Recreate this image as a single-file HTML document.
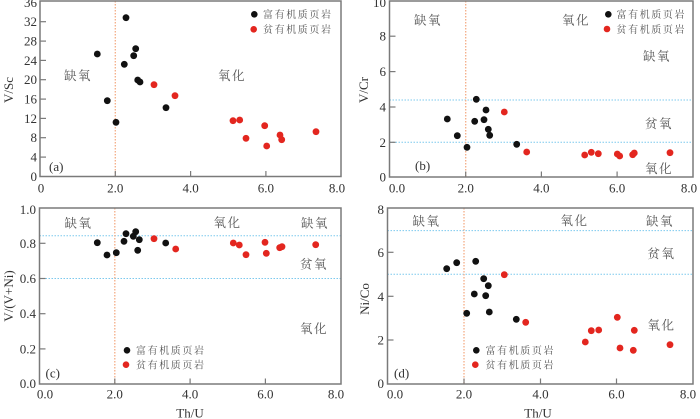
<!DOCTYPE html>
<html><head><meta charset="utf-8"><style>
html,body{margin:0;padding:0;background:#fff;}
svg{display:block;}
.t{font-family:"Liberation Serif",serif;font-size:13px;fill:#333;}
.lab{font-family:"Liberation Serif",serif;font-size:13px;fill:#333;}
.pl{font-family:"Liberation Serif",serif;font-size:13px;fill:#333;}
.cn{font-family:"Liberation Serif","Noto Serif CJK SC","Noto Sans CJK SC",serif;font-size:12.5px;fill:#555;letter-spacing:1.5px;}
.lg{font-family:"Liberation Serif","Noto Serif CJK SC","Noto Sans CJK SC",serif;font-size:10px;fill:#555;letter-spacing:1.6px;}
.fr{fill:none;stroke:#7a7a7a;stroke-width:1.5;}
.tk{stroke:#7a7a7a;stroke-width:1.2;}
.vo{stroke:#f4ad86;stroke-width:1.3;stroke-dasharray:1.5 1.5;}
.hb{stroke:#7cc9ee;stroke-width:1;stroke-dasharray:1.5 1.5;}
.k{fill:#111;}
.r{fill:#e3261f;}
</style></head><body>
<svg width="700" height="419" viewBox="0 0 700 419" xmlns="http://www.w3.org/2000/svg">

<!-- ===== Panel (a) ===== -->
<line class="vo" x1="115.3" y1="1" x2="115.3" y2="176.5"/>
<rect class="fr" x="40" y="1" width="301" height="175.5"/>
<g class="tk">
<line x1="40" y1="157.1" x2="46" y2="157.1"/><line x1="40" y1="137.7" x2="46" y2="137.7"/>
<line x1="40" y1="118.4" x2="46" y2="118.4"/><line x1="40" y1="99.1" x2="46" y2="99.1"/>
<line x1="40" y1="79.7" x2="46" y2="79.7"/><line x1="40" y1="60.4" x2="46" y2="60.4"/>
<line x1="40" y1="41.1" x2="46" y2="41.1"/><line x1="40" y1="21.7" x2="46" y2="21.7"/>
<line x1="115.3" y1="176.5" x2="115.3" y2="171"/><line x1="190.6" y1="176.5" x2="190.6" y2="171"/>
<line x1="265.9" y1="176.5" x2="265.9" y2="171"/>
</g>
<g class="t" text-anchor="end">
<text x="37" y="181">0</text><text x="37" y="161.6">4</text><text x="37" y="142.2">8</text>
<text x="37" y="122.9">12</text><text x="37" y="103.6">16</text><text x="37" y="84.2">20</text>
<text x="37" y="64.9">24</text><text x="37" y="45.6">28</text><text x="37" y="26.2">32</text>
<text x="37" y="7">36</text>
</g>
<g class="t" text-anchor="middle">
<text x="41" y="192.5">0</text><text x="115.3" y="192.5">2.0</text><text x="190.6" y="192.5">4.0</text>
<text x="265.9" y="192.5">6.0</text><text x="337" y="192.5">8.0</text>
</g>
<text class="lab" text-anchor="middle" transform="translate(13,90) rotate(-90)">V/Sc</text>
<text class="pl" x="49" y="171">(a)</text>
<text class="cn" x="64" y="80">缺氧</text>
<text class="cn" x="218" y="80">氧化</text>
<g>
<circle class="k" cx="97.3" cy="54" r="3.4"/><circle class="k" cx="107.3" cy="100.7" r="3.4"/>
<circle class="k" cx="116" cy="122.3" r="3.4"/><circle class="k" cx="124.3" cy="64.3" r="3.4"/>
<circle class="k" cx="126" cy="17.7" r="3.4"/><circle class="k" cx="133.7" cy="55.7" r="3.4"/>
<circle class="k" cx="135.7" cy="48.7" r="3.4"/><circle class="k" cx="137.7" cy="80" r="3.4"/>
<circle class="k" cx="140" cy="82" r="3.4"/><circle class="k" cx="166" cy="107.7" r="3.4"/>
<circle class="r" cx="154" cy="84.7" r="3.4"/><circle class="r" cx="175" cy="95.7" r="3.4"/>
<circle class="r" cx="233" cy="120.7" r="3.4"/><circle class="r" cx="239.7" cy="120" r="3.4"/>
<circle class="r" cx="246" cy="138.3" r="3.4"/><circle class="r" cx="264.7" cy="125.7" r="3.4"/>
<circle class="r" cx="266.7" cy="146" r="3.4"/><circle class="r" cx="280" cy="135" r="3.4"/>
<circle class="r" cx="281.7" cy="139.7" r="3.4"/><circle class="r" cx="316" cy="131.7" r="3.4"/>
</g>
<circle class="k" cx="254.3" cy="14.3" r="3.3"/><text class="lg" x="263" y="18">富有机质页岩</text>
<circle class="r" cx="253.7" cy="29.3" r="3.3"/><text class="lg" x="263" y="33">贫有机质页岩</text>

<!-- ===== Panel (b) ===== -->
<line class="hb" x1="389.5" y1="100" x2="693" y2="100"/>
<line class="hb" x1="389.5" y1="142.3" x2="693" y2="142.3"/>
<line class="vo" x1="465.7" y1="1" x2="465.7" y2="177"/>
<rect class="fr" x="389.5" y="1" width="303.5" height="176"/>
<g class="tk">
<line x1="389.5" y1="142.3" x2="395.5" y2="142.3"/><line x1="389.5" y1="107" x2="395.5" y2="107"/>
<line x1="389.5" y1="71.6" x2="395.5" y2="71.6"/><line x1="389.5" y1="36.2" x2="395.5" y2="36.2"/>
<line x1="465.7" y1="177" x2="465.7" y2="171.5"/><line x1="541.4" y1="177" x2="541.4" y2="171.5"/>
<line x1="617.1" y1="177" x2="617.1" y2="171.5"/>
</g>
<g class="t" text-anchor="end">
<text x="386" y="181.5">0</text><text x="386" y="146.8">2</text><text x="386" y="111.5">4</text>
<text x="386" y="76.1">6</text><text x="386" y="40.7">8</text><text x="386" y="7">10</text>
</g>
<g class="t" text-anchor="middle">
<text x="397" y="192.5">0.0</text><text x="465.7" y="192.5">2.0</text><text x="541.4" y="192.5">4.0</text>
<text x="617.1" y="192.5">6.0</text><text x="689" y="192.5">8.0</text>
</g>
<text class="lab" text-anchor="middle" transform="translate(368,90) rotate(-90)">V/Cr</text>
<text class="pl" x="415" y="170">(b)</text>
<text class="cn" x="414" y="24.5">缺氧</text>
<text class="cn" x="562" y="24.5">氧化</text>
<text class="cn" x="643" y="60.5">缺氧</text>
<text class="cn" x="645" y="128">贫氧</text>
<text class="cn" x="645" y="173">氧化</text>
<g>
<circle class="k" cx="447.3" cy="119" r="3.4"/><circle class="k" cx="457.3" cy="135.7" r="3.4"/>
<circle class="k" cx="467" cy="147.3" r="3.4"/><circle class="k" cx="474.7" cy="121.3" r="3.4"/>
<circle class="k" cx="476.3" cy="99.3" r="3.4"/><circle class="k" cx="484" cy="119.7" r="3.4"/>
<circle class="k" cx="486" cy="110" r="3.4"/><circle class="k" cx="488.3" cy="129.3" r="3.4"/>
<circle class="k" cx="489.7" cy="135.3" r="3.4"/><circle class="k" cx="516.7" cy="144.3" r="3.4"/>
<circle class="r" cx="504.3" cy="112" r="3.4"/><circle class="r" cx="526.7" cy="152" r="3.4"/>
<circle class="r" cx="584.7" cy="155" r="3.4"/><circle class="r" cx="591.3" cy="152.3" r="3.4"/>
<circle class="r" cx="598.3" cy="153.7" r="3.4"/><circle class="r" cx="617.3" cy="154" r="3.4"/>
<circle class="r" cx="619.7" cy="156" r="3.4"/><circle class="r" cx="632.7" cy="154.7" r="3.4"/>
<circle class="r" cx="634.3" cy="153" r="3.4"/><circle class="r" cx="670" cy="152.7" r="3.4"/>
</g>
<circle class="k" cx="608.3" cy="14.3" r="3.3"/><text class="lg" x="616.5" y="18">富有机质页岩</text>
<circle class="r" cx="607" cy="29" r="3.3"/><text class="lg" x="616.5" y="33">贫有机质页岩</text>

<!-- ===== Panel (c) ===== -->
<line class="hb" x1="39.5" y1="235.7" x2="341" y2="235.7"/>
<line class="hb" x1="39.5" y1="278.5" x2="341" y2="278.5"/>
<line class="vo" x1="114.8" y1="208" x2="114.8" y2="384"/>
<rect class="fr" x="39.5" y="208" width="301.5" height="176"/>
<g class="tk">
<line x1="39.5" y1="348.9" x2="45.5" y2="348.9"/><line x1="39.5" y1="313.7" x2="45.5" y2="313.7"/>
<line x1="39.5" y1="278.5" x2="45.5" y2="278.5"/><line x1="39.5" y1="243.3" x2="45.5" y2="243.3"/>
<line x1="114.8" y1="384" x2="114.8" y2="378.5"/><line x1="190.1" y1="384" x2="190.1" y2="378.5"/>
<line x1="265.4" y1="384" x2="265.4" y2="378.5"/>
</g>
<g class="t" text-anchor="end">
<text x="36" y="388">0.0</text><text x="36" y="353.4">0.2</text><text x="36" y="318.2">0.4</text>
<text x="36" y="283">0.6</text><text x="36" y="247.8">0.8</text><text x="36" y="214">1.0</text>
</g>
<g class="t" text-anchor="middle">
<text x="45" y="398.5">0.0</text><text x="114.8" y="398.5">2.0</text><text x="190.1" y="398.5">4.0</text>
<text x="265.4" y="398.5">6.0</text><text x="336" y="398.5">8.0</text>
</g>
<text class="lab" text-anchor="middle" transform="translate(13,296) rotate(-90)">V/(V+Ni)</text>
<text class="lab" text-anchor="middle" x="190" y="417.5">Th/U</text>
<text class="pl" x="45.5" y="377.5">(c)</text>
<text class="cn" x="64.5" y="227.5">缺氧</text>
<text class="cn" x="213.5" y="227">氧化</text>
<text class="cn" x="301" y="227.5">缺氧</text>
<text class="cn" x="300" y="268.5">贫氧</text>
<text class="cn" x="300" y="333">氧化</text>
<g>
<circle class="k" cx="97.3" cy="242.7" r="3.4"/><circle class="k" cx="107" cy="255" r="3.4"/>
<circle class="k" cx="116.3" cy="252.7" r="3.4"/><circle class="k" cx="124" cy="241.3" r="3.4"/>
<circle class="k" cx="126" cy="233.7" r="3.4"/><circle class="k" cx="133.3" cy="236.3" r="3.4"/>
<circle class="k" cx="135.7" cy="231.7" r="3.4"/><circle class="k" cx="139.3" cy="239.7" r="3.4"/>
<circle class="k" cx="137.7" cy="250.3" r="3.4"/><circle class="k" cx="165.7" cy="243" r="3.4"/>
<circle class="r" cx="154" cy="238.7" r="3.4"/><circle class="r" cx="175.7" cy="249" r="3.4"/>
<circle class="r" cx="233.3" cy="243" r="3.4"/><circle class="r" cx="239.3" cy="245" r="3.4"/>
<circle class="r" cx="246" cy="254.7" r="3.4"/><circle class="r" cx="265" cy="242.3" r="3.4"/>
<circle class="r" cx="266.3" cy="253.3" r="3.4"/><circle class="r" cx="279.7" cy="247.7" r="3.4"/>
<circle class="r" cx="282" cy="246.7" r="3.4"/><circle class="r" cx="315.7" cy="244.7" r="3.4"/>
</g>
<circle class="k" cx="127" cy="350.3" r="3.3"/><text class="lg" x="136" y="354">富有机质页岩</text>
<circle class="r" cx="126" cy="364.7" r="3.3"/><text class="lg" x="136" y="368.5">贫有机质页岩</text>

<!-- ===== Panel (d) ===== -->
<line class="hb" x1="387.5" y1="230.6" x2="693" y2="230.6"/>
<line class="hb" x1="387.5" y1="274.3" x2="693" y2="274.3"/>
<line class="vo" x1="464" y1="208" x2="464" y2="384"/>
<rect class="fr" x="387.5" y="208" width="305.5" height="176"/>
<g class="tk">
<line x1="387.5" y1="340" x2="393.5" y2="340"/><line x1="387.5" y1="296.3" x2="393.5" y2="296.3"/>
<line x1="387.5" y1="252.3" x2="393.5" y2="252.3"/>
<line x1="464" y1="384" x2="464" y2="378.5"/><line x1="540.5" y1="384" x2="540.5" y2="378.5"/>
<line x1="616.5" y1="384" x2="616.5" y2="378.5"/>
</g>
<g class="t" text-anchor="end">
<text x="384" y="388">0</text><text x="384" y="344.5">2</text><text x="384" y="300.8">4</text>
<text x="384" y="256.8">6</text><text x="384" y="214">8</text>
</g>
<g class="t" text-anchor="middle">
<text x="395" y="398.5">0.0</text><text x="464" y="398.5">2.0</text><text x="540.5" y="398.5">4.0</text>
<text x="616.5" y="398.5">6.0</text><text x="688" y="398.5">8.0</text>
</g>
<text class="lab" text-anchor="middle" transform="translate(369,299) rotate(-90)">Ni/Co</text>
<text class="lab" text-anchor="middle" x="538" y="417.5">Th/U</text>
<text class="pl" x="394" y="377.5">(d)</text>
<text class="cn" x="412.5" y="225.5">缺氧</text>
<text class="cn" x="560.5" y="225">氧化</text>
<text class="cn" x="646" y="225.5">缺氧</text>
<text class="cn" x="647.5" y="258">贫氧</text>
<text class="cn" x="647.5" y="329.5">氧化</text>
<g>
<circle class="k" cx="446.7" cy="268.7" r="3.4"/><circle class="k" cx="456.7" cy="262.7" r="3.4"/>
<circle class="k" cx="466.7" cy="313.3" r="3.4"/><circle class="k" cx="474.3" cy="294" r="3.4"/>
<circle class="k" cx="475.7" cy="261.3" r="3.4"/><circle class="k" cx="483.7" cy="278.7" r="3.4"/>
<circle class="k" cx="485.7" cy="295.7" r="3.4"/><circle class="k" cx="488.3" cy="285.7" r="3.4"/>
<circle class="k" cx="489.3" cy="312" r="3.4"/><circle class="k" cx="516.3" cy="319.3" r="3.4"/>
<circle class="r" cx="504.3" cy="274.7" r="3.4"/><circle class="r" cx="525.7" cy="322.3" r="3.4"/>
<circle class="r" cx="585.3" cy="342" r="3.4"/><circle class="r" cx="591.3" cy="330.7" r="3.4"/>
<circle class="r" cx="598.7" cy="330" r="3.4"/><circle class="r" cx="617.3" cy="317.3" r="3.4"/>
<circle class="r" cx="620" cy="348" r="3.4"/><circle class="r" cx="633.3" cy="350.3" r="3.4"/>
<circle class="r" cx="634.3" cy="330.3" r="3.4"/><circle class="r" cx="670" cy="344.7" r="3.4"/>
</g>
<circle class="k" cx="476.3" cy="350.3" r="3.3"/><text class="lg" x="485.5" y="354">富有机质页岩</text>
<circle class="r" cx="475.3" cy="364.7" r="3.3"/><text class="lg" x="485.5" y="368.5">贫有机质页岩</text>

</svg>
</body></html>
